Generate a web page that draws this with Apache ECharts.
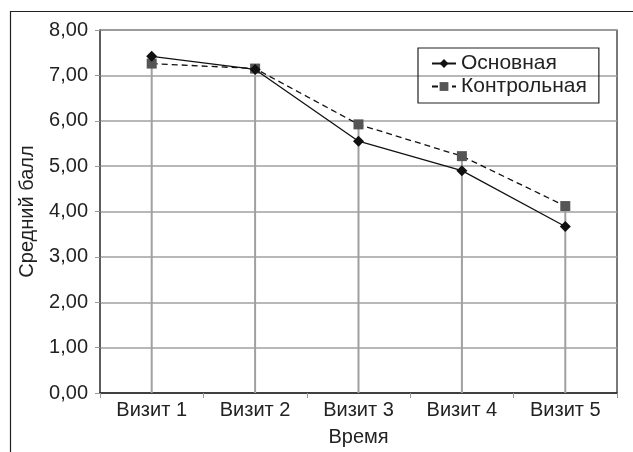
<!DOCTYPE html>
<html><head><meta charset="utf-8">
<script src="https://cdn.jsdelivr.net/npm/echarts@6/dist/echarts.min.js"></script>
<style>html,body{margin:0;padding:0;background:#fff}#c{width:633px;height:452px}</style>
</head><body><div id="c"></div>
<script>
var categories = ['Визит 1','Визит 2','Визит 3','Визит 4','Визит 5'];
var mainValues = [7.42, 7.13, 5.55, 4.90, 3.67];
var controlValues = [7.26, 7.15, 5.92, 5.22, 4.12];
var seriesNames = ['Основная','Контрольная'];
var yTicks = [0,1,2,3,4,5,6,7,8];
var dropValues = categories.map(function(c,i){return Math.max(mainValues[i], controlValues[i]);});
var chart = echarts.init(document.getElementById('c'));
var font = 'Liberation Sans, Arial, sans-serif';
chart.setOption({
  animation:false,
  graphic:[{type:'rect',shape:{x:10.5,y:11.5,width:640,height:460},style:{fill:'none',stroke:'#222',lineWidth:1.2},z:-10}],
  grid:{left:100,top:30,right:16,bottom:55,show:true,borderColor:'#222',borderWidth:1.2},
  legend:{
    data:seriesNames, orient:'vertical', left:418, top:48, padding:[5,12,6,13],
    borderColor:'#222', borderWidth:1.2, itemGap:2,
    itemWidth:24, itemHeight:11,
    textStyle:{fontFamily:font,fontSize:21,color:'#222'}
  },
  xAxis:{
    type:'category', data:categories, boundaryGap:true,
    name:'Время', nameLocation:'middle', nameGap:34,
    nameTextStyle:{fontFamily:font,fontSize:20,color:'#222'},
    axisLine:{lineStyle:{color:'#222',width:1.5}},
    axisTick:{show:true,alignWithLabel:false,inside:false,length:5,lineStyle:{color:'#999'}},
    axisLabel:{fontFamily:font,fontSize:20,color:'#222',margin:7},
    splitLine:{show:false}
  },
  yAxis:{
    type:'value', min:yTicks[0], max:yTicks[yTicks.length-1], interval:1,
    name:'Средний балл', nameLocation:'middle', nameGap:63,
    nameTextStyle:{fontFamily:font,fontSize:20,color:'#222'},
    axisLine:{show:true,lineStyle:{color:'#555',width:1.5}},
    axisTick:{show:true,length:5,lineStyle:{color:'#999'}},
    axisLabel:{fontFamily:font,fontSize:20,color:'#222',margin:12,
      formatter:function(v){return v.toFixed(2).replace('.',',');}},
    splitLine:{show:true,lineStyle:{color:'#a0a0a0',width:1.5}}
  },
  series:[
    {type:'bar',name:'drop',data:dropValues,barWidth:2,itemStyle:{color:'#a0a0a0'},
     silent:true,z:1,legendHoverLink:false},
    {type:'line',name:seriesNames[0],data:mainValues,symbol:'diamond',symbolSize:11,
     lineStyle:{color:'#111',width:1.3,type:'solid'},itemStyle:{color:'#111'},z:4},
    {type:'line',name:seriesNames[1],data:controlValues,symbol:'rect',symbolSize:10,
     lineStyle:{color:'#111',width:1.3,type:[6,4]},itemStyle:{color:'#555'},z:3}
  ]
});
</script></body></html>
